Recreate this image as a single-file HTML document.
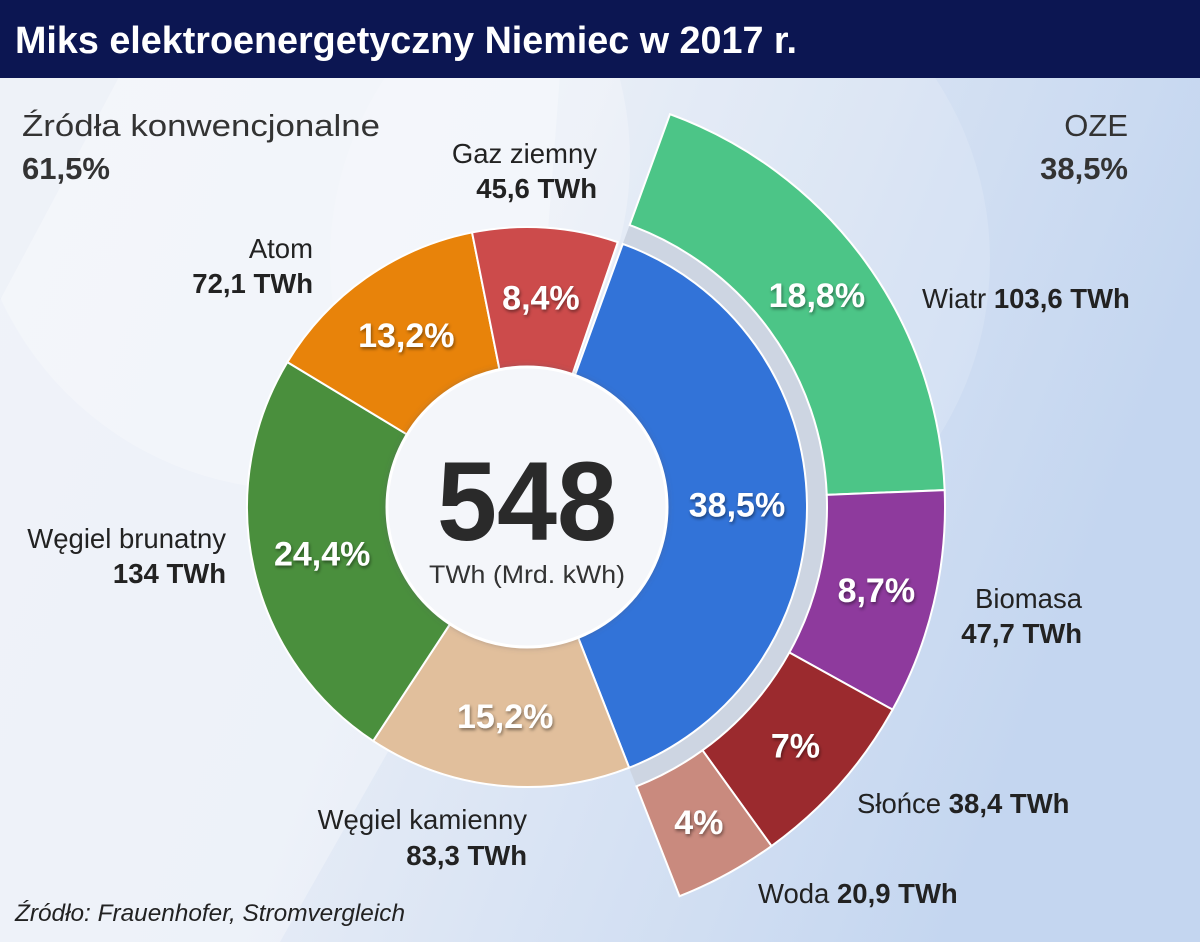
<!DOCTYPE html>
<html><head><meta charset="utf-8"><style>
html,body{margin:0;padding:0;width:1200px;height:942px;overflow:hidden;}
svg text{font-family:"Liberation Sans",sans-serif;}
</style></head><body>
<svg id="chart" width="1200" height="942" viewBox="0 0 1200 942" xmlns="http://www.w3.org/2000/svg">
<defs>
<linearGradient id="bg" x1="0" y1="0" x2="1" y2="0.3">
<stop offset="0" stop-color="#e9eef6"/><stop offset="0.45" stop-color="#e6ecf6"/><stop offset="1" stop-color="#c4d6f0"/>
</linearGradient>
<filter id="sh" x="-20%" y="-20%" width="140%" height="140%"><feDropShadow dx="1" dy="2" stdDeviation="1.5" flood-color="#000" flood-opacity="0.45"/></filter>
<filter id="sh2" x="-10%" y="-10%" width="120%" height="120%"><feDropShadow dx="0" dy="0" stdDeviation="3" flood-color="#556" flood-opacity="0.35"/></filter>
</defs>
<rect x="0" y="0" width="1200" height="942" fill="url(#bg)"/>
<circle cx="300" cy="160" r="330" fill="#ffffff" opacity="0.25"/>
<circle cx="660" cy="260" r="330" fill="#ffffff" opacity="0.15"/>
<path d="M527 507 L560 75 L120 75 L0 300 L0 942 L280 942 Z" fill="#ffffff" opacity="0.3"/>
<rect x="0" y="0" width="1200" height="78" fill="#0c1652"/>
<text x="15" y="53" font-size="38" font-weight="bold" fill="#ffffff" textLength="782" lengthAdjust="spacingAndGlyphs">Miks elektroenergetyczny Niemiec w 2017 r.</text>
<text x="22" y="136" font-size="31" fill="#333" textLength="358" lengthAdjust="spacingAndGlyphs">Źródła konwencjonalne</text>
<text x="22" y="179" font-size="31" font-weight="bold" fill="#333">61,5%</text>
<text x="1128" y="136" font-size="31" fill="#333" text-anchor="end">OZE</text>
<text x="1128" y="179" font-size="31" font-weight="bold" fill="#333" text-anchor="end">38,5%</text>
<g id="rings"></g>
<circle cx="527" cy="507" r="140" fill="#f4f6fa" stroke="#ffffff" stroke-width="3" filter="url(#sh2)"/>
<text x="527" y="540" font-size="112" font-weight="bold" fill="#2a2a2a" text-anchor="middle" textLength="180" lengthAdjust="spacingAndGlyphs">548</text>
<text x="527" y="583" font-size="25" fill="#333" text-anchor="middle" textLength="196" lengthAdjust="spacingAndGlyphs">TWh (Mrd. kWh)</text>
<g id="labels" font-size="27.5" fill="#222"></g>
<text x="15" y="921" font-size="24" font-style="italic" fill="#222" textLength="390" lengthAdjust="spacingAndGlyphs">Źródło: Frauenhofer, Stromvergleich</text>
</svg>
<script>
const innerNames=["OZE","Węgiel kamienny","Węgiel brunatny","Atom","Gaz ziemny"];
const innerShares=[38.5,15.2,24.4,13.2,8.4];
const innerLabels=["38,5%","15,2%","24,4%","13,2%","8,4%"];
const innerColors=["#3273d8","#e1bf9c","#4a8f3d","#e8830a","#cc4b4b"];
const outerNames=["Wiatr","Biomasa","Słońce","Woda"];
const outerShares=[18.8,8.7,7,4];
const outerLabels=["18,8%","8,7%","7%","4%"];
const outerColors=["#4cc587","#8e3a9d","#9b2a2e","#c98a7e"];
const CX=527,CY=507,START=20;
const NS="http://www.w3.org/2000/svg";
function ang(share){return share/100*360;}
function pt(a,r){const t=(a-90)*Math.PI/180;return[CX+r*Math.cos(t),CY+r*Math.sin(t)];}
function arc(a0,a1,r0,r1){const p0=pt(a0,r1),p1=pt(a1,r1),p2=pt(a1,r0),p3=pt(a0,r0);const l=(a1-a0)>180?1:0;
return `M${p0[0]} ${p0[1]} A${r1} ${r1} 0 ${l} 1 ${p1[0]} ${p1[1]} L${p2[0]} ${p2[1]} A${r0} ${r0} 0 ${l} 0 ${p3[0]} ${p3[1]} Z`;}
const g=document.getElementById('rings');
const ozeSpan=ang(innerShares[0]);
const band=document.createElementNS(NS,'path');
band.setAttribute('d',arc(START,START+ozeSpan,280,300));
band.setAttribute('fill','#cdd5e2');


g.appendChild(band);
function drawRing(shares,colors,labels,names,r0,r1,lr,prefix){
  let a=START;
  shares.forEach((s,i)=>{
    const a1=a+ang(s);
    const p=document.createElementNS(NS,'path');
    p.setAttribute('d',arc(a,a1,r0,r1));
    p.setAttribute('fill',colors[i]);
    p.setAttribute('stroke','#ffffff');
    p.setAttribute('stroke-width','2');
    
    
    g.appendChild(p);
    const c=pt((a+a1)/2,lr);
    const t=document.createElementNS(NS,'text');
    t.setAttribute('x',c[0]);t.setAttribute('y',c[1]+12);
    t.setAttribute('text-anchor','middle');t.setAttribute('font-size','34');
    t.setAttribute('font-weight','bold');t.setAttribute('fill','#ffffff');
    t.setAttribute('filter','url(#sh)');
    
    
    t.textContent=labels[i];
    g.appendChild(t);
    a=a1;
  });
}
drawRing(innerShares,innerColors,innerLabels,innerNames,140,280,210,'inner');
drawRing(outerShares,outerColors,outerLabels,outerNames,300,418,359,'outer');
const lab=document.getElementById('labels');
function label(x,y,anchor,parts){
  const t=document.createElementNS(NS,'text');
  t.setAttribute('x',x);t.setAttribute('y',y);t.setAttribute('text-anchor',anchor);
  
  
  parts.forEach(([s,b])=>{const sp=document.createElementNS(NS,'tspan');if(b)sp.setAttribute('font-weight','bold');sp.textContent=s;t.appendChild(sp);});
  lab.appendChild(t);
}
label(597,163,'end',[["Gaz ziemny",0]]);label(597,198,'end',[["45,6 TWh",1]]);
label(313,258,'end',[["Atom",0]]);label(313,293,'end',[["72,1 TWh",1]]);
label(226,548,'end',[["Węgiel brunatny",0]]);label(226,583,'end',[["134 TWh",1]]);
label(527,829,'end',[["Węgiel kamienny",0]]);label(527,865,'end',[["83,3 TWh",1]]);
label(922,308,'start',[["Wiatr ",0],["103,6 TWh",1]]);
label(1082,608,'end',[["Biomasa",0]]);label(1082,643,'end',[["47,7 TWh",1]]);
label(857,813,'start',[["Słońce ",0],["38,4 TWh",1]]);
label(758,903,'start',[["Woda ",0],["20,9 TWh",1]]);
</script>
</body></html>
